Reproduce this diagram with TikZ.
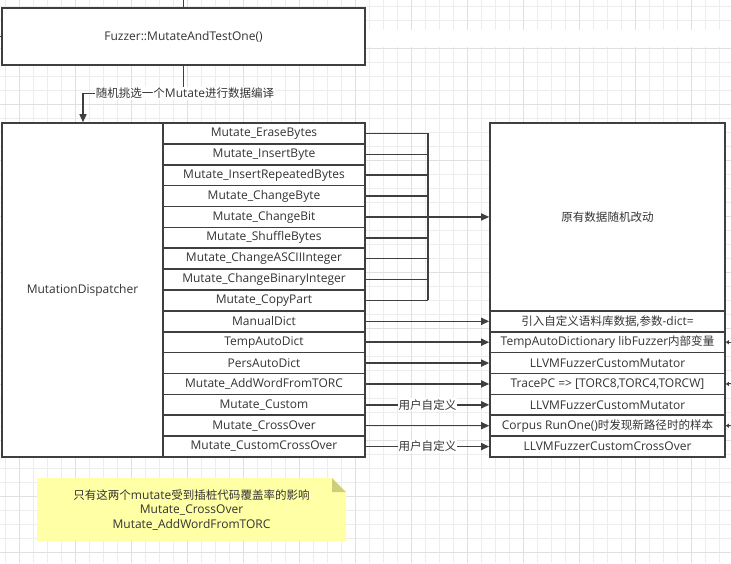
\documentclass[tikz,border=0pt]{standalone}
\usepackage{fontspec}
\setmainfont{Open Sans}
\newfontfamily\cjk{Noto Sans CJK SC}[Scale=0.96]
\usetikzlibrary{arrows.meta}
\definecolor{ln}{HTML}{3F3F3F}
\definecolor{tx}{HTML}{333333}
\definecolor{gmin}{HTML}{EDEDED}
\definecolor{gmaj}{HTML}{E0E0E0}
\definecolor{notef}{HTML}{FFFFA6}
\definecolor{foldf}{HTML}{CDCD7A}
\newcommand\fs{\fontsize{12}{14.5}\selectfont}
\begin{document}
\begin{tikzpicture}[x=1pt,y=-1pt,
  box/.style={draw=ln, line width=1.6pt, fill=white, inner sep=0pt, text=tx, font=\fs},
  conn/.style={draw=ln, line width=1.4pt},
  arr/.style={-{Triangle[length=8pt,width=7pt]}},
  smallarr/.style={-{Triangle[length=3pt,width=4pt]}},
  lbl/.style={fill=white, inner sep=1pt, text=tx, font=\fs}]
\useasboundingbox (0,0) rectangle (731,563);
\begin{scope}
\clip (0,0) rectangle (731,563);
\fill[white] (0,0) rectangle (731,563);
\foreach \k in {0,...,51} \draw[gmin, line width=1pt] ({5.3+14*\k},0) -- ({5.3+14*\k},563);
\foreach \k in {0,...,39} \draw[gmin, line width=1pt] (0,{6.7+14*\k}) -- (731,{6.7+14*\k});
\foreach \k in {0,...,12} \draw[gmaj, line width=1pt] ({19.3+56*\k},0) -- ({19.3+56*\k},563);
\foreach \k in {1,...,10} \draw[gmaj, line width=1pt] (0,{-7.7+56*\k}) -- (731,{-7.7+56*\k});
\fill[white] (366,30) rectangle (731,47);
\end{scope}

% top box
\node[box, minimum width=363pt, minimum height=57pt] (fz) at (183.5,36.5) {Fuzzer::MutateAndTestOne()};
% dispatcher
\node[box, minimum width=161pt, minimum height=334pt] (md) at (82.5,290) {MutationDispatcher};
% big right box
\node[box, minimum width=235pt, minimum height=188.75pt] (big) at (607.5,217.4) {{\cjk 原有数据随机改动}};

% left rows
\foreach \t [count=\i] in {{Mutate\_EraseBytes},{Mutate\_InsertByte},{Mutate\_InsertRepeatedBytes},{Mutate\_ChangeByte},{Mutate\_ChangeBit},{Mutate\_ShuffleBytes},{Mutate\_ChangeASCIIInteger},{Mutate\_ChangeBinaryInteger},{Mutate\_CopyPart},{ManualDict},{TempAutoDict},{PersAutoDict},{Mutate\_AddWordFromTORC},{Mutate\_Custom},{Mutate\_CrossOver},{Mutate\_CustomCrossOver}}{
  \pgfmathsetmacro\yy{123+20.875*(\i-0.5)}
  \node[box, minimum width=202pt, minimum height=20.875pt] (r\i) at (264,\yy) {\t};
}
% right rows
\foreach \t [count=\j from 10] in {{{\cjk 引入自定义语料库数据},{\cjk 参数}-dict=},{TempAutoDictionary libFuzzer{\cjk 内部变量}},{LLVMFuzzerCustomMutator},{TracePC => [TORC8,TORC4,TORCW]},{LLVMFuzzerCustomMutator},{Corpus RunOne(){\cjk 时发现新路径时的样本}},{LLVMFuzzerCustomCrossOver}}{
  \pgfmathsetmacro\yy{123+20.875*(\j-0.5)}
  \node[box, minimum width=235pt, minimum height=20.875pt] (d\j) at (607.5,\yy) {\t};
}

% top connectors
\coordinate (topin) at (183.5,0);
\coordinate (lin) at (0,36.5);
\draw[conn] (topin) -- (fz.north);
\draw[conn] (lin) -- (fz.west);
\coordinate (k1) at (183.5,93.3);
\coordinate (k2) at (83,93.3);
\draw[conn,arr] (fz.south) -- (k1) -- (k2) -- (k2 |- md.north);
\node[lbl] (lab0) at (185,93.3) {{\cjk 随机挑选一个}Mutate{\cjk 进行数据编译}};

% bus for first nine rows
\coordinate (bus) at (428,0);
\foreach \i in {1,...,9} \draw[conn] (r\i.east) -- (r\i.east -| bus);
\draw[conn] (r1.east -| bus) -- (r9.east -| bus);
\draw[conn,arr] (r5.east -| bus) -- (big.west |- r5.east);

% rows 10-16
\foreach \i in {10,11,12,13,15} \draw[conn,arr] (r\i.east) -- (d\i.west);
\draw[conn,arr] (r14.east) -- (d14.west) node[lbl, midway] (lab1) {{\cjk 用户自定义}};
\draw[conn,arr] (r16.east) -- (d16.west) node[lbl, midway] (lab2) {{\cjk 用户自定义}};

% incoming from right edge
\foreach \i in {11,13,15}{
  \coordinate (e\i) at (731,0);
  \draw[conn, line width=1pt, smallarr] (e\i |- d\i.east) -- (d\i.east);
}

% note
\fill[notef] (37,478) -- (332,478) -- (346,492) -- (346,541) -- (37,541) -- cycle;
\fill[foldf] (332,478) -- (332,492) -- (346,492) -- cycle;
\node[text=tx, font=\fs, align=center, inner sep=0pt] (note) at (191.5,510) {{\cjk 只有这两个}mutate{\cjk 受到插桩代码覆盖率的影响}\\Mutate\_CrossOver\\Mutate\_AddWordFromTORC};
\end{tikzpicture}
\end{document}
